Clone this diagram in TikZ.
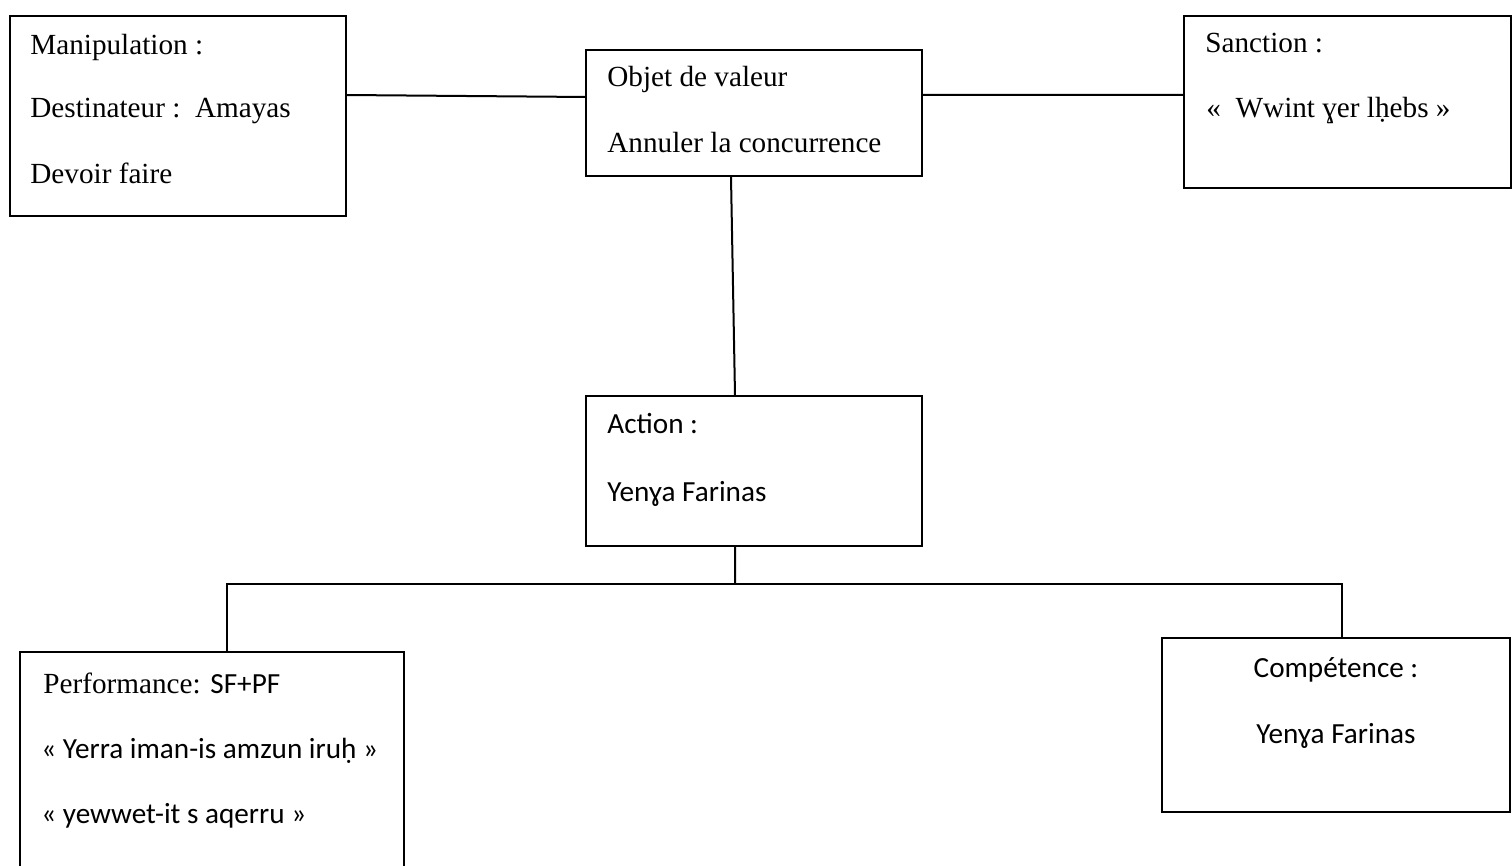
\documentclass[tikz,border=0pt]{standalone}
\usepackage{fontspec}
\setmainfont{Liberation Serif}
\newfontfamily\calibri{Carlito}
\usetikzlibrary{calc}
\begin{document}
\begin{tikzpicture}[x=0.5pt,y=-0.5pt,
  box/.style={draw, line width=1pt, inner sep=0pt, outer sep=0pt, anchor=north west},
  link/.style={line width=1pt},
  txt/.style={inner sep=0pt, anchor=base west, font=\fontsize{14.6pt}{17pt}\selectfont},
  ctxt/.style={txt, anchor=base}]
\clip (0,0) rectangle (1512,866);
\fill[white] (0,0) rectangle (1512,866);

% boxes
\node[box, minimum width=168pt, minimum height=100pt] (manip) at (10,16) {};
\node[box, minimum width=168pt, minimum height=63pt] (objet) at (586,50) {};
\node[box, minimum width=163.5pt, minimum height=86pt] (sanction) at (1184,16) {};
\node[box, minimum width=168pt, minimum height=75pt] (action) at (586,396) {};
\node[box, minimum width=192pt, minimum height=115pt] (perf) at (20,652) {};
\node[box, minimum width=174pt, minimum height=87pt] (comp) at (1162,638) {};

% texts
\node[txt] (m1) at (30,55) {Manipulation :};
\node[txt] (m2) at (30,118) {Destinateur :\ \ Amayas};
\node[txt] (m3) at (30,184) {Devoir faire};
\node[txt] (o1) at (607,87) {Objet de valeur};
\node[txt] (o2) at (607,153) {Annuler la concurrence};
\node[txt] (s1) at (1205,53) {Sanction :};
\node[txt] (s2) at (1206,118) {«\ \ Wwint ɣer lḥebs »};
\node[txt] (a1) at (607,434) {\calibri Action :};
\node[txt] (a2) at (607,502) {\calibri Yenɣa Farinas};
\node[txt] (p1) at (43,693) {Performance: {\calibri SF+PF}};
\node[txt] (p2) at (41,758) {\calibri « Yerra iman-is amzun iruḥ »};
\node[txt] (p3) at (41,823) {\calibri « yewwet-it s aqerru »};
\node[ctxt] (c1) at (1336,677) {\calibri Compétence :};
\node[ctxt] (c2) at (1336,743) {\calibri Yenɣa Farinas};

% connectors
\draw[link] ($(manip.north east)!0.395!(manip.south east)$) -- ($(objet.north west)!0.373!(objet.south west)$);
\draw[link] ($(objet.north east)!0.357!(objet.south east)$) -- ($(sanction.north west)!0.459!(sanction.south west)$);
\draw[link] ($(objet.south west)!0.4315!(objet.south east)$) -- ($(action.north west)!0.4435!(action.north east)$);
\coordinate (bus) at (735,584);
\coordinate (pt) at ($(perf.north west)!0.539!(perf.north east)$);
\coordinate (ct) at ($(comp.north west)!0.517!(comp.north east)$);
\draw[link] ($(action.south west)!0.4435!(action.south east)$) -- (bus);
\draw[link] (pt) -- (pt |- bus) -- (ct |- bus) -- (ct);
\end{tikzpicture}
\end{document}
